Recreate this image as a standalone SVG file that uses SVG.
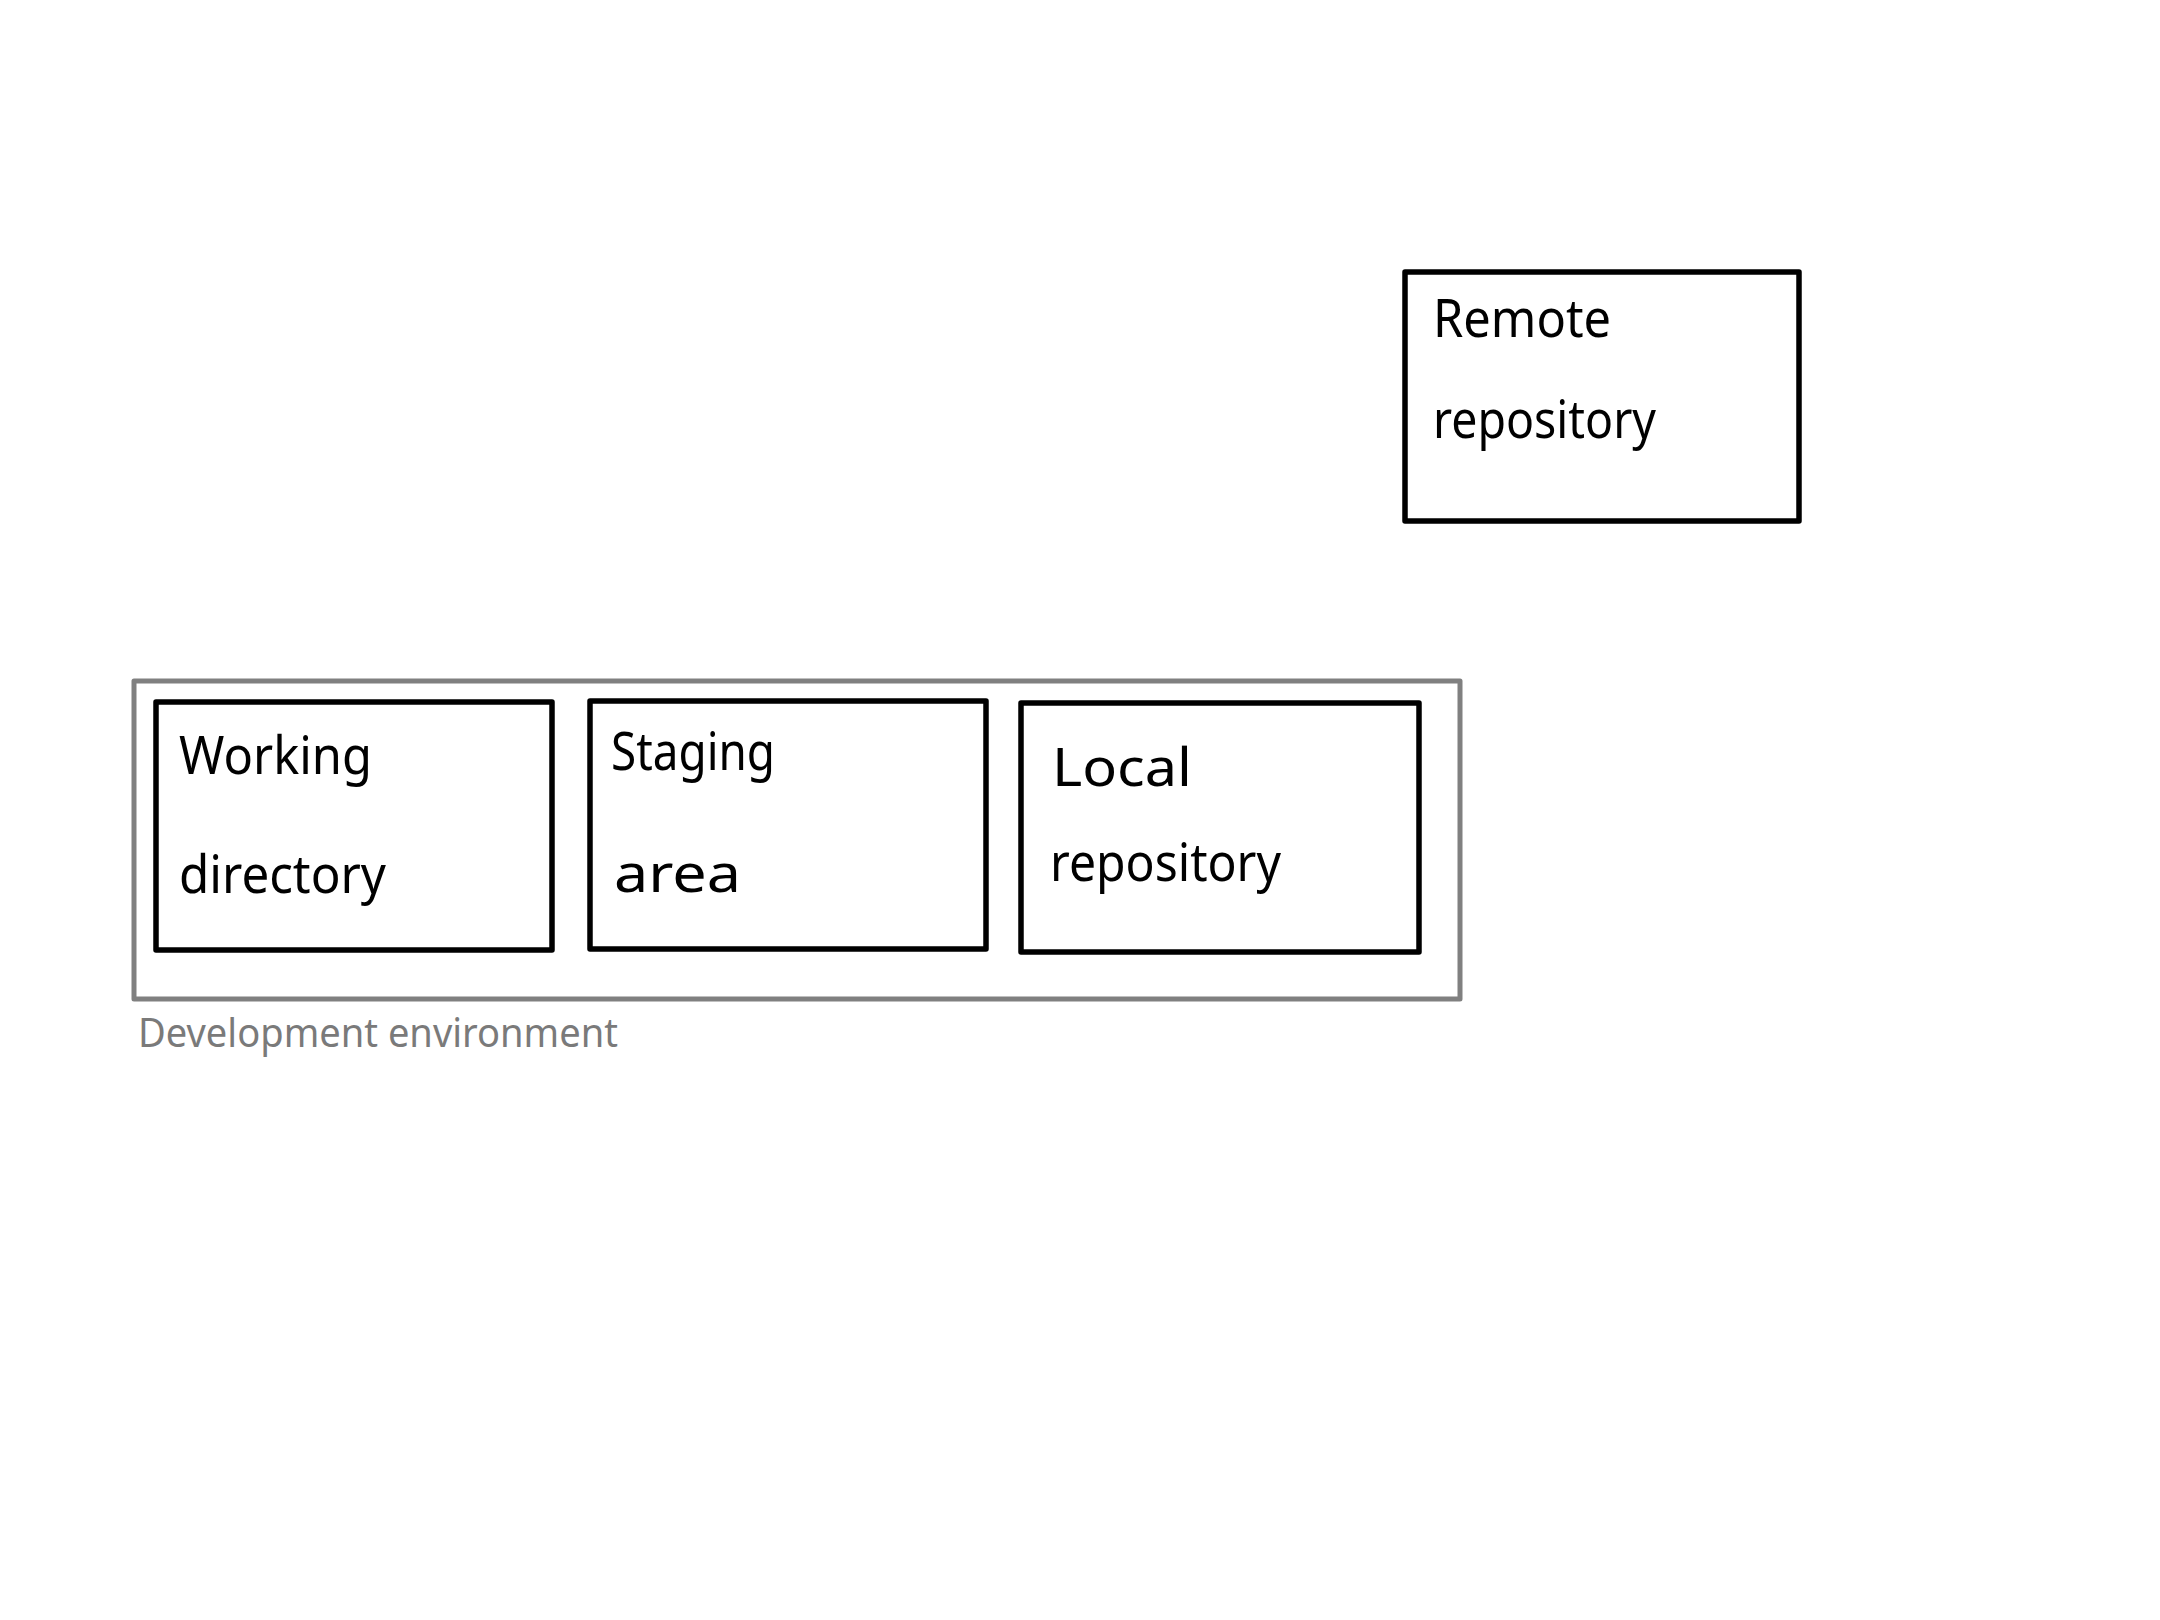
<svg xmlns="http://www.w3.org/2000/svg" width="2160" height="1620" viewBox="0 0 2160 1620">
  <style>
    .box { fill: #ffffff; stroke: #000000; stroke-width: 5.5; stroke-linejoin: round; }
    .env { fill: none; stroke: #808080; stroke-width: 5; stroke-linejoin: round; }
    .lbl { font-family: "Noto Sans", "Liberation Sans", sans-serif; font-size: 52px; fill: #000000; }
    .envlbl { font-family: "Noto Sans", "Liberation Sans", sans-serif; font-size: 40px; fill: #7a7a7a; }
  </style>
  <rect width="2160" height="1620" fill="#ffffff"/>

  <!-- development environment container -->
  <g id="development-environment">
    <rect class="env" x="134" y="681" width="1326" height="318"/>
    <text class="envlbl" x="138" y="1047" textLength="480" lengthAdjust="spacingAndGlyphs">Development environment</text>
  </g>

  <g id="working-directory">
    <rect class="box" x="156" y="702" width="396" height="248"/>
    <text class="lbl" x="179" y="774" textLength="193" lengthAdjust="spacingAndGlyphs">Working</text>
    <text class="lbl" x="179" y="893" textLength="207" lengthAdjust="spacingAndGlyphs">directory</text>
  </g>

  <g id="staging-area">
    <rect class="box" x="590" y="701" width="396" height="248"/>
    <text class="lbl" x="611" y="770" textLength="164" lengthAdjust="spacingAndGlyphs">Staging</text>
    <text class="lbl" x="614" y="892" font-size="58" textLength="127" lengthAdjust="spacingAndGlyphs">area</text>
  </g>

  <g id="local-repository">
    <rect class="box" x="1021" y="703" width="398" height="249"/>
    <text class="lbl" x="1052" y="786" font-size="58" textLength="140" lengthAdjust="spacingAndGlyphs">Local</text>
    <text class="lbl" x="1050" y="881" textLength="231" lengthAdjust="spacingAndGlyphs">repository</text>
  </g>

  <g id="remote-repository">
    <rect class="box" x="1405" y="272" width="394" height="249"/>
    <text class="lbl" x="1433" y="337" textLength="178" lengthAdjust="spacingAndGlyphs">Remote</text>
    <text class="lbl" x="1433" y="438" textLength="223" lengthAdjust="spacingAndGlyphs">repository</text>
  </g>

  <!-- no connectors drawn -->
  <g id="connectors"></g>
</svg>
